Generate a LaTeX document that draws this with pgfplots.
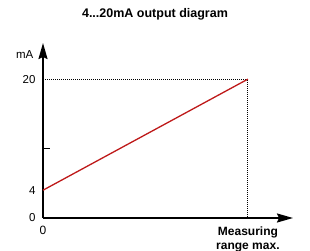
\documentclass[border=0pt]{standalone}
\usepackage{pgfplots}
\pgfplotsset{compat=1.18}
\usepackage{fontspec}
\setmainfont{Liberation Sans}
\usetikzlibrary{arrows.meta}
\definecolor{redline}{RGB}{190,25,25}
\begin{document}
\begin{tikzpicture}[x=1pt,y=1pt]
\path[use as bounding box] (-43,-33) rectangle (267,218);
\begin{axis}[
  at={(0,0)}, anchor=origin,
  scale only axis, width=250pt, height=175pt,
  xmin=0, xmax=1.22, ymin=0, ymax=25.2,
  axis lines=left,
  axis line style={line width=1.9pt, -{Stealth[length=16pt,width=9pt,inset=2pt]}},
  ytick={0,4,10,20}, yticklabels={0,4,,20},
  xtick={0,1}, xticklabels={0,{\textbf{Measuring}\\\textbf{range max.}}},
  major tick length=0pt,
  tick style={draw=none},
  ticklabel style={font=\fontsize{11.5}{13}\selectfont},
  xticklabel style={align=center, font=\fontsize{12}{14}\selectfont, yshift=-5pt},
  yticklabel style={xshift=-4pt},
  title={\textbf{4...20mA output diagram}},
  title style={at={(axis description cs:0.448,1.13)}, anchor=center, font=\fontsize{12.5}{14}\selectfont},
  clip=false,
]
\addplot[black, line width=1pt, densely dotted] coordinates {(0,20) (1,20) (1,0)};
\addplot[redline, line width=1.3pt] coordinates {(0,4) (1,20)};
\addplot[black, line width=1.3pt] coordinates {(0,10) (0.036,10)};
\node[anchor=center, font=\fontsize{11.5}{13}\selectfont] at (axis cs:-0.089,23.6) {mA};
\end{axis}
\end{tikzpicture}
\end{document}
